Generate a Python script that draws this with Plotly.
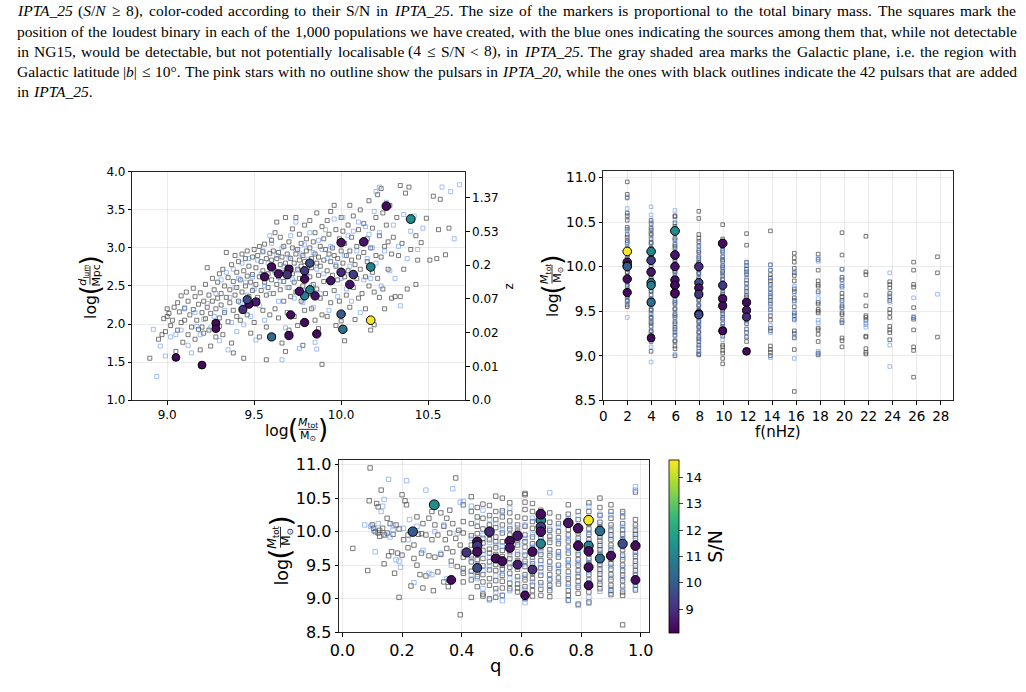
import re
import plotly.graph_objects as go

W, H = 1026, 692

# ---------------- caption ----------------
caption_lines = [
    "<i>IPTA_25</i> (<i>S</i>/<i>N</i> ≥ 8), color-coded according to their S/N in <i>IPTA_25</i>. The size of the markers is proportional to the total binary mass. The squares mark the",
    "position of the loudest binary in each of the 1,000 populations we have created, with the blue ones indicating the sources among them that, while not detectable",
    "in NG15, would be detectable, but not potentially localisable (4 ≤ S/N &lt; 8), in <i>IPTA_25</i>. The gray shaded area marks the Galactic plane, i.e. the region with",
    "Galactic latitude |<i>b</i>| ≤ 10°. The pink stars with no outline show the pulsars in <i>IPTA_20</i>, while the ones with black outlines indicate the 42 pulsars that are added",
    "in <i>IPTA_25</i>.",
]

# ---------------- detected sources (S/N >= 8) ----------------
det_logM = [10.17, 10.40, 10.17, 10.26, 10.13, 10.07, 10.05, 10.01, 10.00, 10.00, 10.00, 9.94, 9.86,
            9.85, 9.82, 9.82, 9.79, 9.79, 9.79, 9.79, 9.76, 9.71, 9.70, 9.70, 9.69, 9.64, 9.60, 9.60,
            9.56, 9.51, 9.47, 9.46, 9.435, 9.28, 9.28, 9.20, 9.05]
det_logd = [2.05, 3.38, 2.75, 3.55, 3.08, 2.65, 2.52, 1.93, 3.07, 2.68, 2.13, 2.57, 1.87,
            2.37, 2.80, 2.45, 2.70, 2.59, 2.02, 2.37, 2.43, 2.12, 2.72, 1.85, 2.65, 2.66, 2.75, 1.83,
            2.62, 2.29, 2.26, 2.32, 2.19, 2.01, 1.94, 1.46, 1.56]
det_f = [1.98, 5.94, 3.96, 9.90, 5.94, 3.96, 1.98, 1.98, 5.94, 7.92, 1.98, 3.96, 1.98,
         5.94, 7.92, 3.96, 9.90, 5.94, 5.94, 3.96, 7.92, 1.98, 5.94, 5.94, 7.92, 9.90, 11.88, 3.96,
         9.90, 11.88, 7.92, 7.92, 11.88, 9.90, 9.90, 3.96, 11.88]
det_q = [0.825, 0.308, 0.665, 0.665, 0.757, 0.665, 0.790, 0.863, 0.665, 0.493, 0.236, 0.587, 0.561,
         0.452, 0.939, 0.665, 0.452, 0.790, 0.982, 0.825, 0.561, 0.825, 0.637, 0.452, 0.416, 0.900, 0.514, 0.863,
         0.536, 0.587, 0.825, 0.452, 0.637, 0.365, 0.982, 0.825, 0.612]
det_sn = [14.6, 11.3, 11.1, 8.3, 8.5, 9.3, 8.4, 10.5, 8.4, 8.9, 10.0, 8.5, 8.3,
          8.4, 9.7, 11.0, 9.2, 8.3, 8.3, 10.9, 8.4, 8.3, 8.3, 8.3, 9.1, 8.4, 8.3, 10.4,
          8.3, 8.6, 8.3, 9.6, 9.0, 8.3, 8.3, 8.3, 8.3]
sn_min, sn_max = 8.1, 14.67
cbar_ticks = [9, 10, 11, 12, 13, 14]

# ---------------- panel 1 : loudest binaries, log M vs log d_lum ----------------
p1_gray = [
    (8.90,1.55),(8.95,1.80),(8.97,1.86),(8.98,2.07),(8.99,1.90),(9.00,2.10),
    (9.00,2.20),(9.01,2.14),(9.02,1.98),(9.03,2.05),(9.04,2.22),(9.05,1.64),(9.06,2.28),(9.06,1.92),(9.07,2.16),(9.08,2.02),(9.08,2.37),(9.09,1.76),(9.10,2.05),(9.10,2.21),
    (9.11,2.42),(9.12,1.86),(9.12,2.30),(9.13,2.12),(9.14,1.96),(9.15,2.47),(9.15,2.19),(9.16,1.80),(9.16,2.36),(9.17,2.05),(9.18,1.93),(9.18,2.26),(9.19,1.66),(9.19,2.41),(9.20,2.15),(9.20,1.96),
    (9.21,2.30),(9.21,1.88),(9.22,2.52),(9.22,2.07),(9.23,2.74),(9.23,2.22),(9.24,1.92),(9.24,2.38),(9.25,2.14),(9.25,1.71),(9.26,2.60),(9.26,2.30),(9.27,2.02),(9.27,2.45),(9.28,2.20),(9.28,1.83),(9.29,2.55),(9.29,2.34),(9.30,2.08),(9.30,2.66),(9.30,1.97),
    (9.31,2.40),(9.31,2.25),(9.32,2.72),(9.32,1.86),(9.33,2.50),(9.33,2.15),(9.34,2.94),(9.34,2.35),(9.35,2.61),(9.35,2.03),(9.36,2.45),(9.36,2.28),(9.37,2.78),(9.37,1.75),(9.38,2.56),(9.38,2.18),(9.39,2.90),(9.39,2.38),(9.40,2.68),(9.40,2.10),(9.40,2.48),(9.38,1.62),
    (9.41,2.82),(9.41,2.30),(9.42,2.58),(9.42,2.05),(9.43,2.92),(9.43,2.42),(9.44,2.70),(9.44,1.55),(9.44,2.22),(9.45,2.86),(9.45,2.50),(9.46,2.63),(9.46,2.12),(9.46,2.96),(9.47,2.36),(9.47,2.76),(9.48,2.55),(9.48,1.88),(9.49,2.88),(9.49,2.44),(9.49,2.65),(9.50,2.28),(9.50,2.98),(9.50,2.02),
    (9.51,2.74),(9.51,2.52),(9.52,2.90),(9.52,2.35),(9.53,3.02),(9.53,1.83),(9.53,2.62),(9.54,2.82),(9.54,2.44),(9.55,2.95),(9.55,2.18),(9.55,2.70),(9.56,2.55),(9.56,3.05),(9.57,2.38),(9.57,2.86),(9.57,1.96),(9.58,2.66),(9.58,2.48),(9.59,2.93),(9.59,2.76),(9.59,2.12),(9.60,3.10),(9.60,2.58),(9.57,1.53),(9.60,2.84),
    (9.61,2.40),(9.61,2.96),(9.62,2.70),(9.62,3.20),(9.62,2.20),(9.63,2.86),(9.63,2.52),(9.63,3.34),(9.64,2.62),(9.64,2.08),(9.64,2.94),(9.65,2.78),(9.65,2.45),(9.65,3.14),(9.66,2.68),(9.66,1.75),(9.66,2.88),(9.67,2.56),(9.67,3.02),(9.67,2.30),(9.68,2.80),(9.68,3.40),(9.68,1.64),(9.69,2.62),(9.69,2.92),(9.69,2.15),(9.70,2.74),(9.70,3.08),(9.70,2.48),(9.70,1.92),
    (9.71,2.86),(9.71,2.36),(9.72,3.00),(9.72,2.66),(9.72,3.25),(9.73,2.80),(9.73,2.55),(9.73,2.10),(9.74,2.92),(9.74,3.40),(9.74,2.42),(9.75,2.72),(9.75,2.98),(9.75,1.98),(9.76,2.84),(9.76,2.60),(9.76,3.18),(9.77,2.76),(9.77,2.30),(9.77,3.06),(9.78,2.90),(9.78,2.50),(9.78,1.72),(9.79,2.82),(9.79,3.30),(9.79,2.18),(9.80,2.96),(9.80,2.68),(9.80,3.12),
    (9.81,2.80),(9.81,2.40),(9.82,3.00),(9.82,2.62),(9.82,3.36),(9.83,2.86),(9.83,2.20),(9.83,2.74),(9.84,3.08),(9.84,2.52),(9.85,2.92),(9.85,3.20),(9.85,2.05),(9.86,2.80),(9.86,2.46),(9.86,3.46),(9.87,2.88),(9.87,2.64),(9.87,1.94),(9.88,3.02),(9.88,2.34),(9.88,2.76),(9.89,3.28),(9.89,2.12),(9.89,1.47),(9.90,2.84),(9.90,2.56),(9.90,3.12),
    (9.91,2.98),(9.91,2.40),(9.92,3.36),(9.92,2.70),(9.92,2.10),(9.93,2.92),(9.93,3.18),(9.94,2.82),(9.94,2.28),(9.94,3.48),(9.95,2.64),(9.95,3.00),(9.96,2.90),(9.96,2.44),(9.96,3.56),(9.97,2.76),(9.97,3.24),(9.97,1.98),(9.98,2.86),(9.98,2.58),(9.99,3.12),(9.99,2.30),(10.00,2.96),(10.00,3.40),(10.00,2.04),
    (10.01,2.80),(10.01,3.22),(10.02,2.62),(10.02,3.06),(10.02,1.78),(10.03,2.90),(10.03,2.38),(10.04,3.30),(10.04,2.70),(10.05,2.96),(10.05,3.56),(10.05,2.22),(10.06,2.84),(10.06,3.14),(10.07,2.48),(10.07,3.42),(10.08,2.78),(10.08,2.06),(10.09,3.02),(10.09,2.60),(10.10,3.24),(10.10,2.34),(10.10,2.88),
    (10.11,3.50),(10.11,2.72),(10.12,3.06),(10.12,2.40),(10.13,2.94),(10.13,3.32),(10.14,2.62),(10.14,2.20),(10.15,3.12),(10.15,2.82),(10.16,3.62),(10.16,2.50),(10.17,3.00),(10.17,1.92),(10.18,3.26),(10.18,2.68),(10.19,2.42),(10.19,1.99),(10.20,3.40),(10.20,2.90),
    (10.21,3.70),(10.21,2.60),(10.22,3.16),(10.22,2.35),(10.23,3.78),(10.23,2.88),(10.24,3.46),(10.24,2.46),(10.25,3.02),(10.25,2.20),(10.26,3.30),(10.27,2.72),(10.27,3.08),(10.28,3.56),(10.29,2.92),(10.29,2.34),(10.30,3.14),
    (10.31,2.36),(10.32,3.40),(10.33,2.90),(10.34,3.82),(10.35,3.06),(10.36,2.72),(10.37,3.72),(10.38,2.46),(10.39,3.80),(10.40,2.98),(10.41,3.36),(10.43,2.52),(10.43,3.16),(10.44,2.84),(10.34,2.36),
    (10.46,3.07),(10.49,3.39),(10.51,2.84),(10.55,2.86),(10.56,3.24),(10.60,2.91),(10.62,3.26),(10.53,3.68),(10.57,3.64),
]
p1_blue = [
    (8.92,1.93),(8.94,1.31),(8.96,1.71),(8.99,1.58),(9.02,1.83),(9.05,1.86),(9.08,1.92),(9.10,2.20),(9.12,1.72),(9.14,1.62),(9.16,2.15),(9.17,1.97),(9.19,1.86),(9.21,2.06),(9.23,2.27),(9.25,1.95),(9.27,2.10),(9.28,2.40),(9.30,1.78),(9.31,2.58),
    (9.33,2.18),(9.34,2.68),(9.35,1.66),(9.36,2.35),(9.37,2.02),(9.38,2.72),(9.39,2.48),(9.40,1.90),(9.41,2.60),(9.42,2.28),(9.43,2.80),(9.44,1.99),(9.45,2.55),(9.46,2.38),(9.47,2.86),(9.48,2.10),(9.49,2.62),(9.50,2.46),(9.51,1.79),(9.52,2.84),
    (9.53,2.24),(9.54,2.66),(9.55,2.96),(9.56,2.05),(9.57,2.60),(9.58,2.80),(9.59,2.40),(9.60,3.06),(9.61,1.84),(9.62,2.68),(9.63,2.90),(9.64,2.30),(9.65,2.56),(9.66,3.00),(9.67,2.76),(9.68,1.95),(9.69,2.48),(9.70,2.88),(9.71,3.16),(9.72,2.58),
    (9.73,2.34),(9.74,2.98),(9.75,2.70),(9.76,1.68),(9.77,2.92),(9.78,2.44),(9.79,3.04),(9.80,2.62),(9.81,2.85),(9.82,3.20),(9.83,2.50),(9.84,2.94),(9.85,1.76),(9.86,2.72),(9.87,3.10),(9.88,2.40),(9.89,2.98),(9.90,2.66),(9.91,3.24),(9.92,2.86),
    (9.93,2.18),(9.94,3.02),(9.95,2.55),(9.96,3.38),(9.97,2.78),(9.98,2.36),(9.99,3.08),(10.00,2.60),(10.01,3.40),(10.02,2.90),(10.03,2.46),(10.04,3.16),(10.05,2.76),(10.06,2.30),(10.07,3.22),(10.08,2.64),(10.09,2.96),(10.10,3.34),(10.11,2.15),(10.12,3.08),
    (10.13,2.58),(10.14,3.28),(10.15,2.86),(10.16,3.18),(10.17,2.60),(10.18,3.00),(10.19,3.48),(10.20,2.80),(10.22,3.20),(10.23,2.50),(10.25,2.96),(10.26,3.60),(10.28,2.70),(10.30,3.30),(10.31,2.60),(10.33,3.02),(10.34,2.24),(10.36,3.44),(10.38,2.86),(10.40,3.22),
    (10.42,3.42),(10.44,2.98),(10.47,3.26),(10.58,3.80),(10.63,3.74),(10.68,3.83),(10.65,3.12),(10.20,3.74),(10.22,3.80),(9.74,3.34),(9.59,3.16),(9.86,1.67),(9.66,1.53),(9.84,2.22),(9.56,2.50),(9.78,2.28),
]
z_tick_pos = [1.0, 1.443, 1.886, 2.329, 2.772, 3.215, 3.658]
z_tick_txt = ["0.0", "0.01", "0.02", "0.07", "0.2", "0.53", "1.37"]

# ---------------- panel 2 : frequency bins vs log M ----------------
p2_freqs = [1.98, 3.96, 5.94, 7.92, 9.90, 11.88, 13.86, 15.84, 17.82, 19.80, 21.78, 23.76, 25.74, 27.72]
p2_gray = [
    [10.95, 10.81, 10.77, 10.60, 10.57, 10.52, 10.44, 10.42, 10.36, 10.33, 10.29, 10.27, 10.21, 10.18, 10.13, 10.11, 10.06, 10.05, 10.02, 9.99, 9.94, 9.93, 9.89, 9.85, 9.84, 9.80, 9.78, 9.73, 9.72, 9.67, 9.66, 9.62, 9.61, 9.57, 9.55],
    [10.52, 10.48, 10.43, 10.41, 10.37, 10.36, 10.31, 10.27, 10.26, 10.21, 10.20, 10.16, 10.12, 10.11, 10.06, 10.05, 10.01, 9.97, 9.96, 9.92, 9.88, 9.87, 9.83, 9.81, 9.77, 9.73, 9.72, 9.68, 9.64, 9.63, 9.59, 9.57, 9.52, 9.51, 9.47, 9.43, 9.42, 9.38, 9.36, 9.33, 9.28, 9.27, 9.23, 9.18, 9.16, 9.05],
    [10.57, 10.56, 10.49, 10.45, 10.41, 10.37, 10.32, 10.30, 10.25, 10.23, 10.21, 10.16, 10.14, 10.10, 10.08, 10.04, 10.02, 9.98, 9.95, 9.94, 9.90, 9.86, 9.85, 9.81, 9.77, 9.76, 9.72, 9.68, 9.67, 9.62, 9.60, 9.58, 9.53, 9.52, 9.47, 9.45, 9.43, 9.38, 9.36, 9.32, 9.30, 9.26, 9.23, 9.17, 9.16, 9.11, 9.08, 9.00],
    [10.62, 10.54, 10.36, 10.32, 10.28, 10.23, 10.18, 10.16, 10.11, 10.09, 10.05, 10.04, 9.99, 9.97, 9.93, 9.92, 9.87, 9.85, 9.83, 9.78, 9.77, 9.72, 9.71, 9.67, 9.63, 9.62, 9.57, 9.56, 9.51, 9.50, 9.45, 9.44, 9.39, 9.38, 9.33, 9.32, 9.27, 9.26, 9.21, 9.19, 9.16, 9.12, 9.09, 9.05, 9.02, 9.01],
    [10.47, 10.31, 10.28, 10.22, 10.18, 10.16, 10.11, 10.08, 10.06, 10.01, 9.99, 9.95, 9.93, 9.90, 9.86, 9.85, 9.80, 9.78, 9.76, 9.71, 9.69, 9.65, 9.63, 9.58, 9.57, 9.52, 9.50, 9.47, 9.43, 9.41, 9.36, 9.33, 9.30, 9.27, 9.22, 9.12, 9.10, 9.06, 9.03, 8.97, 8.91],
    [10.37, 10.24, 10.05, 10.01, 9.97, 9.94, 9.91, 9.85, 9.81, 9.76, 9.72, 9.68, 9.66, 9.58, 9.55, 9.51, 9.47, 9.40, 9.36, 9.30, 9.26, 9.21, 9.16],
    [10.40, 10.02, 9.96, 9.91, 9.87, 9.84, 9.80, 9.75, 9.70, 9.66, 9.62, 9.58, 9.52, 9.45, 9.40, 9.31, 9.28, 9.11, 9.07, 9.04, 9.00],
    [10.15, 10.10, 10.05, 9.98, 9.93, 9.90, 9.84, 9.75, 9.72, 9.65, 9.62, 9.55, 9.48, 9.45, 9.41, 9.28, 9.25, 9.20, 9.07, 8.60],
    [10.14, 10.08, 9.96, 9.84, 9.80, 9.78, 9.72, 9.60, 9.58, 9.52, 9.50, 9.48, 9.31, 9.29, 9.24, 9.16, 9.03, 9.01],
    [10.38, 10.13, 9.97, 9.88, 9.85, 9.78, 9.70, 9.66, 9.62, 9.56, 9.54, 9.48, 9.46, 9.40, 9.37, 9.20, 9.17, 9.10],
    [10.34, 9.94, 9.91, 9.68, 9.56, 9.45, 9.43, 9.40, 9.22, 9.21, 9.08, 9.04, 9.02],
    [9.83, 9.80, 9.76, 9.70, 9.66, 9.62, 9.52, 9.48, 9.43, 9.33, 9.29, 9.26, 9.18],
    [10.05, 9.96, 9.80, 9.77, 9.54, 9.43, 9.41, 9.29, 9.10, 9.06, 8.76],
    [10.11, 9.93, 9.21],
]
p2_blue = [
    [10.78, 10.65, 10.55, 10.44, 10.40, 10.31, 10.25, 10.17, 10.10, 10.04, 10.00, 9.97, 9.90, 9.84, 9.78, 9.70, 9.66, 9.61, 9.59, 9.43],
    [10.67, 10.58, 10.50, 10.44, 10.39, 10.33, 10.26, 10.19, 10.14, 10.06, 9.99, 9.93, 9.86, 9.80, 9.75, 9.68, 9.62, 9.56, 9.49, 9.44, 9.39, 9.32, 9.26, 9.10, 8.93],
    [10.63, 10.52, 10.44, 10.38, 10.31, 10.25, 10.19, 10.12, 10.07, 10.00, 9.94, 9.89, 9.82, 9.76, 9.70, 9.64, 9.58, 9.52, 9.46, 9.41, 9.34, 9.28, 9.22, 9.16, 9.02],
    [10.26, 10.20, 10.13, 10.07, 10.01, 9.95, 9.89, 9.83, 9.77, 9.71, 9.65, 9.59, 9.53, 9.47, 9.41, 9.35, 9.29, 9.23, 9.17, 9.11, 9.05, 9.03],
    [10.25, 10.20, 10.16, 10.10, 10.04, 9.98, 9.92, 9.86, 9.80, 9.74, 9.68, 9.60, 9.55, 9.48, 9.42, 9.36, 9.30, 9.24, 9.18],
    [10.04, 9.98, 9.92, 9.88, 9.78, 9.70, 9.62, 9.52, 9.45, 9.38, 9.30, 9.22],
    [10.02, 9.96, 9.88, 9.78, 9.72, 9.68, 9.60, 9.55, 9.48, 9.34, 9.26, 8.98],
    [9.95, 9.78, 9.70, 9.60, 9.50, 9.43, 9.40, 9.22, 8.97],
    [10.10, 10.06, 9.70, 9.64, 9.40, 9.37, 9.05, 9.02],
    [9.97, 9.85, 9.80, 9.76, 9.60, 9.53, 9.38],
    [9.37, 9.35, 9.32],
    [9.93, 9.68, 9.60, 9.12, 8.88],
    [9.65, 9.44],
    [9.69],
]

# ---------------- panel 3 : mass ratio q vs log M ----------------
p3_gray_scatter = [
    (0.035,9.75),(0.085,9.42),(0.093,10.95),(0.090,10.46),(0.100,10.10),(0.105,10.05),(0.110,10.00),(0.115,10.42),(0.120,9.98),(0.120,10.37),
    (0.125,9.93),(0.130,10.62),(0.135,10.05),(0.140,9.95),(0.140,9.52),(0.150,10.20),(0.155,9.64),(0.160,10.12),(0.165,9.70),(0.170,9.96),
    (0.175,9.38),(0.180,10.10),(0.185,9.68),(0.190,9.02),(0.190,10.04),(0.200,10.55),(0.200,9.65),(0.205,9.88),(0.210,10.46),(0.215,10.40),
    (0.220,9.95),(0.220,9.76),(0.230,9.19),(0.230,10.00),(0.240,9.60),(0.240,9.80),(0.250,10.22),(0.250,9.50),(0.255,9.96),(0.260,9.36),
    (0.265,9.68),(0.270,10.12),(0.270,9.16),(0.280,9.95),(0.280,9.34),(0.290,9.64),(0.290,10.20),(0.300,10.30),(0.300,9.88),(0.305,9.12),
    (0.310,10.10),(0.310,9.62),(0.320,9.95),(0.320,9.40),(0.330,10.28),(0.330,9.66),(0.340,9.25),(0.340,10.08),(0.350,10.20),(0.350,9.75),
    (0.355,9.18),(0.360,10.32),(0.360,9.98),(0.365,9.56),(0.370,10.12),(0.370,9.70),(0.380,10.80),(0.380,9.90),(0.385,9.48),(0.390,10.02),
    (0.395,8.76),(0.395,9.80),(0.150,9.98),(0.125,10.02),(0.265,9.97),(0.345,9.88),
]
p3_blue_scatter = [
    (0.075,10.10),(0.095,10.08),(0.105,10.02),(0.110,9.70),(0.120,10.12),(0.130,10.30),(0.135,10.38),(0.140,10.48),(0.155,10.78),(0.160,9.92),
    (0.170,10.02),(0.180,9.58),(0.190,9.56),(0.195,9.47),(0.215,10.76),(0.220,9.88),(0.225,10.18),(0.240,9.24),(0.250,10.08),(0.270,9.72),
    (0.280,10.62),(0.290,9.38),(0.300,9.36),(0.310,10.00),(0.330,9.68),(0.340,10.10),(0.350,9.30),(0.365,9.50),(0.370,10.64),(0.385,9.98),
    (0.395,10.44),(0.170,10.10),(0.145,9.95),(0.205,10.05),
]
p3_col_q = [0.405, 0.432, 0.452, 0.471, 0.493, 0.514, 0.536, 0.561, 0.587, 0.612, 0.637,
            0.665, 0.695, 0.724, 0.757, 0.790, 0.826, 0.863, 0.900, 0.939, 0.982]
p3_col_gray = [
    [10.40, 10.15, 9.98, 9.62, 9.45, 9.38, 9.25],
    [10.52, 10.30, 10.12, 9.94, 9.80, 9.64, 9.55, 9.41, 9.28, 9.02],
    [10.36, 10.22, 10.08, 9.97, 9.78, 9.66, 9.58, 9.40, 9.33, 9.18],
    [10.41, 10.20, 10.04, 9.90, 9.83, 9.72, 9.60, 9.49, 9.36, 9.25, 9.07, 9.04],
    [10.39, 10.24, 10.10, 9.96, 9.88, 9.74, 9.68, 9.55, 9.43, 9.30, 9.20, 9.00],
    [10.53, 10.30, 10.18, 10.06, 9.92, 9.85, 9.76, 9.66, 9.51, 9.42, 9.27, 9.15, 9.02],
    [10.50, 10.31, 10.22, 10.10, 9.98, 9.85, 9.72, 9.63, 9.50, 9.44, 9.35, 9.26, 9.16, 9.05],
    [10.43, 10.28, 10.16, 10.04, 9.95, 9.81, 9.70, 9.60, 9.47, 9.38, 9.23, 9.15],
    [10.22, 10.10, 10.01, 9.88, 9.80, 9.66, 9.57, 9.44, 9.33, 9.22, 9.16, 9.10],
    [10.57, 10.55, 10.44, 10.33, 10.20, 10.08, 9.95, 9.85, 9.77, 9.65, 9.56, 9.48, 9.36, 9.28, 9.18, 9.08, 9.00],
    [10.42, 10.30, 10.15, 10.05, 9.92, 9.82, 9.74, 9.62, 9.52, 9.38, 9.30, 9.20, 9.12, 9.04],
    [10.32, 10.20, 10.10, 9.96, 9.90, 9.76, 9.66, 9.57, 9.46, 9.35, 9.24, 9.14, 9.05],
    [10.28, 10.14, 10.02, 9.93, 9.84, 9.73, 9.64, 9.55, 9.45, 9.36, 9.28, 9.20, 9.12, 9.03],
    [10.22, 10.12, 10.00, 9.91, 9.82, 9.70, 9.62, 9.50, 9.40, 9.31, 9.22],
    [10.40, 10.26, 10.15, 10.03, 9.95, 9.86, 9.77, 9.68, 9.58, 9.49, 9.40, 9.30, 9.22, 9.12, 9.05, 8.98],
    [10.30, 10.18, 10.08, 9.98, 9.90, 9.83, 9.75, 9.66, 9.58, 9.50, 9.42, 9.33, 9.26, 9.17, 9.08, 8.92],
    [10.43, 10.30, 10.21, 10.12, 10.04, 9.96, 9.88, 9.82, 9.74, 9.67, 9.60, 9.52, 9.44, 9.36, 9.28, 9.18, 9.10, 8.95],
    [10.50, 10.36, 10.24, 10.14, 10.06, 9.98, 9.92, 9.86, 9.79, 9.73, 9.66, 9.58, 9.51, 9.44, 9.37, 9.30, 9.22, 9.15],
    [10.40, 10.30, 10.20, 10.10, 10.02, 9.95, 9.88, 9.80, 9.72, 9.66, 9.59, 9.52, 9.44, 9.36, 9.28, 9.20, 9.12, 9.06],
    [10.30, 10.22, 10.12, 10.03, 9.96, 9.88, 9.80, 9.73, 9.65, 9.58, 9.50, 9.42, 9.35, 9.27, 9.19, 9.10, 9.05, 8.61],
    [10.59, 10.18, 10.10, 10.02, 9.96, 9.90, 9.83, 9.76, 9.70, 9.63, 9.56, 9.49, 9.42, 9.35, 9.28, 9.20, 9.13],
]
p3_col_blue = [
    [10.45, 9.70, 9.41],
    [10.38, 9.90, 9.60, 9.36],
    [10.15, 9.88, 9.52, 9.30],
    [10.32, 9.95, 9.66, 9.42, 9.15],
    [10.18, 9.84, 9.62, 9.48, 8.98],
    [10.12, 9.80, 9.57, 9.34, 9.10],
    [10.28, 10.02, 9.78, 9.58, 9.38, 9.05, 8.97],
    [10.35, 10.08, 9.90, 9.65, 9.52, 9.30, 9.12],
    [10.06, 9.84, 9.70, 9.47, 9.28],
    [10.10, 9.90, 9.70, 9.52, 9.32, 9.14, 8.94],
    [10.20, 9.96, 9.78, 9.56, 9.42, 9.25],
    [10.14, 9.92, 9.70, 9.51, 9.40, 9.20],
    [10.58, 10.05, 9.88, 9.68, 9.48, 9.30, 9.16],
    [10.08, 9.86, 9.66, 9.45, 9.26],
    [10.20, 9.90, 9.72, 9.54, 9.34, 9.18, 8.97],
    [10.24, 10.02, 9.86, 9.70, 9.54, 9.38, 9.20, 8.90],
    [10.38, 10.16, 9.99, 9.84, 9.70, 9.56, 9.40, 9.24, 9.02, 8.93],
    [10.26, 10.10, 9.95, 9.82, 9.69, 9.55, 9.41, 9.26, 9.11],
    [10.25, 10.06, 9.92, 9.76, 9.62, 9.48, 9.32, 9.16, 9.08],
    [10.27, 10.08, 9.92, 9.77, 9.62, 9.46, 9.31, 9.14],
    [10.67, 10.62, 10.06, 9.93, 9.79, 9.66, 9.52, 9.38, 9.24, 9.15],
]

# ---------------- helpers ----------------
def px(x):
    return x / W

def py(y):
    return 1 - y / H

GRAY = "rgba(70,70,70,0.72)"
BLUE = "rgba(100,149,237,0.60)"
FONT = "DejaVu Sans"

def unzip(pairs):
    return [p[0] for p in pairs], [p[1] for p in pairs]

def flatten_cols(xs, cols):
    ox, oy = [], []
    for x, col in zip(xs, cols):
        for v in col:
            ox.append(x)
            oy.append(v)
    return ox, oy

fig = go.Figure()

def squares(x, y, color, size, xa, ya):
    fig.add_trace(go.Scatter(x=x, y=y, mode="markers", xaxis=xa, yaxis=ya, hoverinfo="skip",
                             marker=dict(symbol="square-open", size=size, color=color, line=dict(width=1))))

def circles(x, y, scale, xa, ya, showscale=False):
    mk = dict(symbol="circle", size=[m * scale for m in det_logM], color=det_sn, colorscale="Viridis",
              cmin=sn_min, cmax=sn_max, line=dict(color="black", width=1), opacity=1.0, showscale=showscale)
    if showscale:
        mk["colorbar"] = dict(x=px(668), xanchor="left", xpad=0, ypad=0,
                              y=py(641.7), yanchor="bottom", len=(641.7 - 464.3) / H, lenmode="fraction",
                              thickness=10, thicknessmode="pixels", outlinewidth=0.8, outlinecolor="black",
                              ticks="outside", ticklen=4, tickwidth=0.8, tickvals=cbar_ticks,
                              tickfont=dict(family=FONT, size=13, color="black"),
                              title=dict(text="S/N", side="right", font=dict(family=FONT, size=19, color="black")))
    fig.add_trace(go.Scatter(x=x, y=y, mode="markers", xaxis=xa, yaxis=ya, hoverinfo="skip", marker=mk))

# panel 1
gx, gy = unzip(p1_gray)
bx, by = unzip(p1_blue)
squares(gx, gy, GRAY, 4, "x", "y")
squares(bx, by, BLUE, 4, "x", "y")
circles(det_logM, det_logd, 0.85, "x", "y")
fig.add_trace(go.Scatter(x=[9.0], y=[2.0], mode="markers", xaxis="x", yaxis="y2",
                         marker=dict(opacity=0), hoverinfo="skip"))

# panel 2
gx, gy = flatten_cols(p2_freqs, p2_gray)
bx, by = flatten_cols(p2_freqs, p2_blue)
squares(gx, gy, GRAY, 3.6, "x2", "y3")
squares(bx, by, BLUE, 3.6, "x2", "y3")
circles(det_f, det_logM, 0.85, "x2", "y3")

# panel 3
gx, gy = unzip(p3_gray_scatter)
cgx, cgy = flatten_cols(p3_col_q, p3_col_gray)
bx, by = unzip(p3_blue_scatter)
cbx, cby = flatten_cols(p3_col_q, p3_col_blue)
squares(gx + cgx, gy + cgy, GRAY, 4.4, "x3", "y4")
squares(bx + cbx, by + cby, BLUE, 4.4, "x3", "y4")
circles(det_q, det_logM, 0.95, "x3", "y4", showscale=True)

def axis(domain, rng, tickvals, fontsize, anchor, fmt=None, **kw):
    d = dict(domain=domain, range=rng, tickvals=tickvals, anchor=anchor,
             showgrid=True, gridcolor="rgba(0,0,0,0.08)", gridwidth=1, zeroline=False,
             showline=True, mirror=True, linecolor="#262626", linewidth=1,
             ticks="outside", ticklen=3.5, tickwidth=0.8, tickcolor="black",
             tickfont=dict(family=FONT, size=fontsize, color="black"))
    if fmt:
        d["tickformat"] = fmt
    d.update(kw)
    return d

fig.update_layout(
    width=W, height=H, margin=dict(l=0, r=0, t=0, b=0),
    paper_bgcolor="white", plot_bgcolor="white", showlegend=False,
    xaxis=axis([px(125), px(462)], [8.8, 10.713], [9.0, 9.5, 10.0, 10.5], 12, "y", ".1f"),
    yaxis=axis([py(403), py(169)], [1.0, 4.0], [1.0, 1.5, 2.0, 2.5, 3.0, 3.5, 4.0], 12, "x", ".1f"),
    yaxis2=dict(overlaying="y", side="right", anchor="x", range=[1.0, 4.0], tickvals=z_tick_pos,
                ticktext=z_tick_txt, showgrid=False, zeroline=False, showline=False,
                ticks="outside", ticklen=3.5, tickwidth=0.8, tickcolor="black",
                tickfont=dict(family=FONT, size=12, color="black")),
    xaxis2=axis([px(602), px(956)], [0, 29], list(range(0, 29, 2)), 13.5, "y3"),
    yaxis3=axis([py(403.3), py(168.3)], [8.5, 11.07], [8.5, 9.0, 9.5, 10.0, 10.5, 11.0], 13.5, "x2", ".1f"),
    xaxis3=axis([px(334.3), px(648.7)], [-0.011, 1.029], [0.0, 0.2, 0.4, 0.6, 0.8, 1.0], 16, "y4", ".1f"),
    yaxis4=axis([py(641), py(464.3)], [8.5, 11.07], [8.5, 9.0, 9.5, 10.0, 10.5, 11.0], 16, "x3", ".1f"),
)

anns = []
shapes = []

# ---------------- caption, justified word by word ----------------
CAP_LEFT, CAP_RIGHT = 7, 1019
CAP_SIZE = 15.5
cap_y = [4.0, 25.0, 45.5, 66.0, 87.0]

ROMAN = {' ': 250, '!': 333, '(': 333, ')': 333, ',': 250, '-': 333, '.': 250, '/': 278, ':': 278, ';': 278,
         '<': 564, '=': 564, '>': 564, '≥': 549, '≤': 549, '°': 400, '|': 200, '_': 500,
         'A': 722, 'B': 667, 'C': 667, 'D': 722, 'E': 611, 'F': 556, 'G': 722, 'H': 722, 'I': 333, 'J': 389,
         'K': 722, 'L': 611, 'M': 889, 'N': 722, 'O': 722, 'P': 556, 'Q': 722, 'R': 667, 'S': 556, 'T': 611,
         'U': 722, 'V': 722, 'W': 944, 'X': 722, 'Y': 722, 'Z': 611,
         'a': 444, 'b': 500, 'c': 444, 'd': 500, 'e': 444, 'f': 333, 'g': 500, 'h': 500, 'i': 278, 'j': 278,
         'k': 500, 'l': 278, 'm': 778, 'n': 500, 'o': 500, 'p': 500, 'q': 500, 'r': 333, 's': 389, 't': 278,
         'u': 500, 'v': 500, 'w': 722, 'x': 500, 'y': 500, 'z': 444}
ITALIC = {'A': 611, 'P': 611, 'T': 556, 'I': 333, 'S': 500, 'N': 667, 'b': 500}

def word_width(word, size):
    italic = False
    total = 0
    for tok in re.findall(r"<[^>]+>|&lt;|.", word):
        if tok == "<i>":
            italic = True
            continue
        if tok == "</i>":
            italic = False
            continue
        ch = "<" if tok == "&lt;" else tok
        if ch.isdigit():
            w = 500
        elif italic and ch in ITALIC:
            w = ITALIC[ch]
        else:
            w = ROMAN.get(ch, 500)
        total += w
    return total * size / 1000.0

def cap_ann(text, x, y):
    anns.append(dict(x=px(x), y=py(y), xref="paper", yref="paper", text=text, showarrow=False,
                     xanchor="left", yanchor="middle", borderpad=0,
                     font=dict(family="Liberation Serif", size=CAP_SIZE, color="black")))

for i, (txt, yy) in enumerate(zip(caption_lines, cap_y)):
    words = txt.split(" ")
    widths = [word_width(w, CAP_SIZE) for w in words]
    if i == len(caption_lines) - 1:
        gap = word_width(" ", CAP_SIZE)
    else:
        gap = (CAP_RIGHT - CAP_LEFT - sum(widths)) / (len(words) - 1)
    x = CAP_LEFT
    for w, wd in zip(words, widths):
        cap_ann(w, x, yy)
        x += wd + gap

# ---------------- axis labels ----------------
def plain(text, x, y, size, angle=0):
    anns.append(dict(x=px(x), y=py(y), xref="paper", yref="paper", text=text, showarrow=False,
                     xanchor="center", yanchor="middle", textangle=angle, borderpad=0,
                     font=dict(family=FONT, size=size, color="black")))

def frac_label(cx, cy, num, den, vertical=False, k=1.0):
    items = [("log", -21, 1.5, 15.5), ("(", -4.5, 0, 26), (num, 11, -6.5, 11), (den, 11, 6.5, 11), (")", 26, 0, 26)]
    for text, s, t, fs in items:
        s *= k; t *= k; fs *= k
        if vertical:
            x, y, ang = cx + t, cy - s, -90
        else:
            x, y, ang = cx + s, cy + t, 0
        plain(text, x, y, fs, ang)
    s0, s1 = 1.5 * k, 20.5 * k
    if vertical:
        shapes.append(dict(type="line", xref="paper", yref="paper", x0=px(cx), x1=px(cx),
                           y0=py(cy - s0), y1=py(cy - s1), line=dict(color="black", width=0.8)))
    else:
        shapes.append(dict(type="line", xref="paper", yref="paper", x0=px(cx + s0), x1=px(cx + s1),
                           y0=py(cy), y1=py(cy), line=dict(color="black", width=0.8)))

MTOT = "<i>M</i><sub>tot</sub>"
MSUN = "M<sub>⊙</sub>"
frac_label(292, 433, MTOT, MSUN, vertical=False, k=1.0)
frac_label(82, 286, "<i>d</i><sub>lum</sub>", "Mpc", vertical=True, k=1.0)
plain("z", 506, 287, 12, -90)
plain("f(nHz)", 779, 436, 15)
frac_label(550, 285, MTOT, MSUN, vertical=True, k=1.0)
plain("q", 493, 675, 18)
frac_label(275, 556, MTOT, MSUN, vertical=True, k=1.12)

fig.update_layout(annotations=anns, shapes=shapes)
fig.write_html("out.html")
